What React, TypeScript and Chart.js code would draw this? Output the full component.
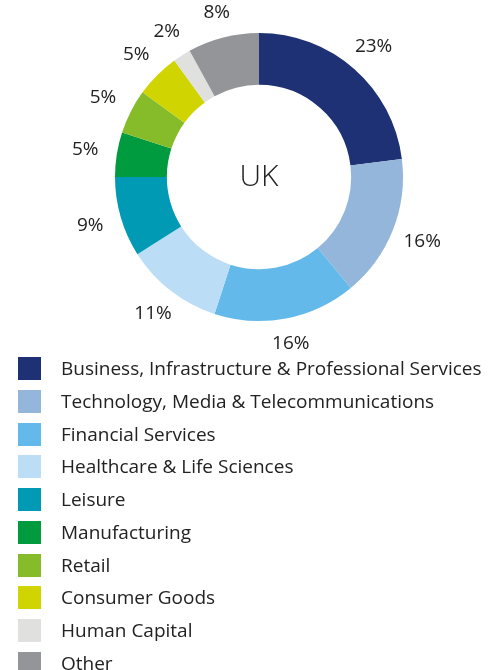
import React, { useEffect, useRef } from "react";
import { Chart, registerables } from "chart.js";

Chart.register(...registerables);

const categories = [
  "Business, Infrastructure & Professional Services",
  "Technology, Media & Telecommunications",
  "Financial Services",
  "Healthcare & Life Sciences",
  "Leisure",
  "Manufacturing",
  "Retail",
  "Consumer Goods",
  "Human Capital",
  "Other",
];
const values = [23, 16, 16, 11, 9, 5, 5, 5, 2, 8];
const colors = [
  "#1e3175",
  "#94b6da",
  "#63b9e9",
  "#bbddf5",
  "#009ab4",
  "#009b3e",
  "#86bb2a",
  "#d0d400",
  "#e0e0df",
  "#939598",
];
const centerLabel = "UK";

const FONT = "'Open Sans', 'Noto Sans', sans-serif";
const TEXT = "#222222";

export default function App() {
  const ref = useRef<HTMLCanvasElement>(null);

  useEffect(() => {
    document.body.style.margin = "0";
    const canvas = ref.current;
    if (!canvas) return;

    const overlay = {
      id: "overlay",
      afterDatasetsDraw(chart: any) {
        const ctx = chart.ctx as CanvasRenderingContext2D;
        const meta = chart.getDatasetMeta(0);
        ctx.save();
        ctx.fillStyle = TEXT;
        ctx.textAlign = "center";
        ctx.textBaseline = "middle";
        ctx.font = `19px ${FONT}`;
        let cx = 0;
        let cy = 0;
        meta.data.forEach((arc: any, i: number) => {
          const p = arc.getProps(["x", "y", "startAngle", "endAngle", "outerRadius"], true);
          cx = p.x;
          cy = p.y;
          const mid = (p.startAngle + p.endAngle) / 2;
          const r = p.outerRadius + 24 + Math.abs(Math.cos(mid)) * 8;
          ctx.fillText(values[i] + "%", p.x + Math.cos(mid) * r, p.y + Math.sin(mid) * r);
        });
        ctx.font = `300 30px ${FONT}`;
        ctx.fillText(centerLabel, cx, cy);

        // legend
        ctx.textAlign = "left";
        ctx.font = `19px ${FONT}`;
        const top = 357;
        const step = 32.75;
        categories.forEach((c, i) => {
          const y = Math.round(top + i * step);
          ctx.fillStyle = colors[i];
          ctx.fillRect(18, y, 23, 23);
          ctx.fillStyle = TEXT;
          ctx.fillText(c, 61, y + 12.5);
        });
        ctx.restore();
      },
    };

    const chart = new Chart(canvas, {
      type: "doughnut",
      data: {
        labels: categories,
        datasets: [
          {
            data: values,
            backgroundColor: colors,
            borderWidth: 0,
            hoverOffset: 0,
          },
        ],
      },
      options: {
        responsive: false,
        animation: false,
        cutout: "64%",
        layout: { padding: { left: 115, top: 33, right: 97, bottom: 349 } },
        plugins: {
          legend: { display: false },
          tooltip: { enabled: false },
        },
      },
      plugins: [overlay],
    });

    (document as any).fonts?.ready?.then(() => chart.update());

    return () => chart.destroy();
  }, []);

  return <canvas ref={ref} width={500} height={670} style={{ display: "block" }} />;
}
